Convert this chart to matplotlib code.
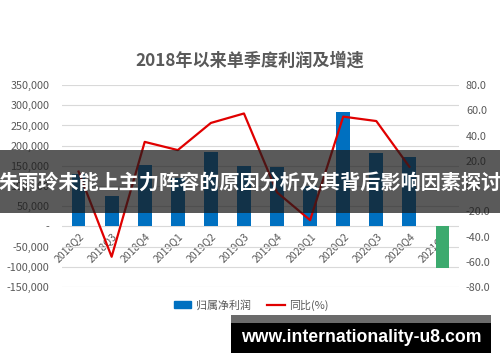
import matplotlib
matplotlib.use("Agg")
import matplotlib.pyplot as plt
from matplotlib.ticker import FuncFormatter
from matplotlib.patches import Rectangle, Patch
from matplotlib.lines import Line2D

plt.rcParams['font.family'] = ['Noto Sans CJK SC', 'DejaVu Sans']
plt.rcParams['axes.unicode_minus'] = False

quarters = ['2018Q2', '2018Q3', '2018Q4', '2019Q1', '2019Q2', '2019Q3',
            '2019Q4', '2020Q1', '2020Q2', '2020Q3', '2020Q4', '2021Q1']
profit = [130000, 75000, 152000, 120000, 184000, 150000,
          148000, 100000, 284000, 183000, 171000, -103000]
growth = [11.5, -56, 35, 28.5, 50, 57.5, -5, -27, 55, 51.5, 15.3]

title = '2018年以来单季度利润及增速'
banner = '朱雨玲未能上主力阵容的原因分析及其背后影响因素探讨'
site = 'www.internationality-u8.com'

gray = '#595959'
blue = '#0070C0'
green = '#3CAA6E'
red = '#E00000'

fig = plt.figure(figsize=(5, 3.62), dpi=100)
ax = fig.add_axes([0.124, 0.207, 0.794, 0.558])
ax2 = ax.twinx()

x = list(range(len(quarters)))
colors = [blue if v >= 0 else green for v in profit]
ax.bar(x, profit, width=0.42, color=colors, zorder=2)
ax2.plot(x[:len(growth)], growth, color=red, lw=1.6, zorder=3)

ax.set_xlim(-0.5, len(quarters) - 0.5)
ax.set_ylim(-150000, 350000)
ax.set_yticks(range(-150000, 350001, 50000))
ax2.set_ylim(-80, 80)
ax2.set_yticks(range(-80, 81, 20))

ax.yaxis.set_major_formatter(FuncFormatter(lambda v, p: '-' if v == 0 else f'{v:,.0f}'))
ax2.yaxis.set_major_formatter(FuncFormatter(lambda v, p: f'{v:.1f}'))

ax.grid(axis='y', color='#D9D9D9', lw=0.8, zorder=0)
ax.set_axisbelow(True)

for a in (ax, ax2):
    for s in a.spines.values():
        s.set_visible(False)
ax.spines['bottom'].set_position(('data', 0))

ax.set_xticks(x)
ax.set_xticklabels(quarters, rotation=45, ha='right', va='top', rotation_mode='anchor')
ax.tick_params(axis='x', length=0, pad=3, labelsize=7.5, labelcolor=gray)
ax.tick_params(axis='y', length=0, pad=9, labelsize=7.8, labelcolor=gray)
ax2.tick_params(axis='y', length=0, pad=5, labelsize=7.8, labelcolor=gray)

fig.text(0.5, 1 - 61 / 362, title, ha='center', va='center', fontsize=12.3,
         fontweight='bold', color=gray)

handles = [Patch(color=blue), Line2D([0], [0], color=red, lw=1.6)]
fig.legend(handles, ['归属净利润', '同比(%)'], loc='center', ncol=2, frameon=False,
           bbox_to_anchor=(0.502, 1 - 305 / 362), fontsize=7.9, labelcolor=gray,
           handlelength=1.6, handletextpad=0.4, columnspacing=1.5)

# overlays
fig.patches.append(Rectangle((0, 1 - 213 / 362), 1, 63 / 362, transform=fig.transFigure,
                             facecolor='#1a1a1a', alpha=0.72, zorder=10))
fig.text(0.5, 1 - 182 / 362, banner, ha='center', va='center', fontsize=14.5,
         fontweight='bold', color='white', zorder=11)
fig.patches.append(Rectangle((231 / 500, 1 - 323 / 362), 260 / 500, 8 / 362,
                             transform=fig.transFigure, facecolor='#6b6b6b', zorder=10))
fig.patches.append(Rectangle((231 / 500, 1 - 353 / 362), 260 / 500, 30 / 362,
                             transform=fig.transFigure, facecolor='black', zorder=10))
fig.text(361 / 500, 1 - 338 / 362, site, ha='center', va='center', fontsize=12.7,
         fontweight='bold', color='white', family=['Liberation Sans', 'DejaVu Sans'],
         zorder=11)

fig.savefig('out.png', dpi=100)
